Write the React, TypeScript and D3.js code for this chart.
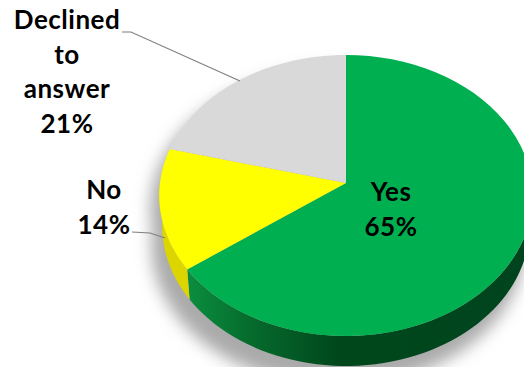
import React from "react";
import * as d3 from "d3";

// Survey answers, in clockwise order from twelve o'clock
const categories = ["Yes", "No", "Declined to answer"];
const shares = [65, 14, 21];
const topColors = ["#00B050", "#FFFF00", "#D9D9D9"];
const labelLines = [["Yes", "65%"], ["No", "14%"], ["Declined", "to", "answer", "21%"]];
const labelCenters = [[391, 201], [104, 199], [67, 29]];
const leaderLines = [
  [],
  [[132, 232], [150, 233], [165, 238]],
  [[122, 32], [131, 32], [240, 81]],
];
const shadowOffsets = [[-9, 14], [-8, 50]];

const W = 524;
const H = 367;
const pivot = { x: 346, y: 183 };
const radiusX = 186;
const radiusY = 139.4;
const tilt = 0.089;
const depth = 30;
const rimNarrowing = 0.985;
const lineHeight = 34.5;

// Perspective projection of a pie angle onto the tilted disc
const project = (a: number): [number, number] => {
  const w = 1 + tilt * Math.cos(a);
  return [pivot.x + (radiusX * Math.sin(a)) / w, pivot.y - (radiusY * Math.cos(a)) / w];
};

const samples = (a0: number, a1: number) =>
  d3.range(0, 61).map((i) => a0 + ((a1 - a0) * i) / 60);

const line = d3.line<[number, number]>().x((d) => d[0]).y((d) => d[1]);

const slices = d3.pie<number>().sort(null)(shares);

// The lower edge of the rim sits further from the eye, so it is slightly narrower
const wall = (a0: number, a1: number) => {
  const top = samples(a0, a1).map(project);
  const bottom = top
    .slice()
    .reverse()
    .map(([x, y]): [number, number] => [pivot.x + (x - pivot.x) * rimNarrowing, y + depth]);
  return line([...top, ...bottom]) + "Z";
};

const wedge = (a0: number, a1: number) =>
  line([[pivot.x, pivot.y], ...samples(a0, a1).map(project)]) + "Z";

const fullDisc = line(samples(0, Math.PI * 2).map(project)) + "Z";
const yesEnd = slices[0].endAngle;

export default function App() {
  return (
    <svg
      width={W}
      height={H}
      viewBox={`0 0 ${W} ${H}`}
      style={{ position: "fixed", left: 0, top: 0, background: "#fff" }}
    >
      <defs>
        <filter id="soft" filterUnits="userSpaceOnUse" x="0" y="0" width={W + 100} height={H + 100}>
          <feGaussianBlur stdDeviation="8" />
        </filter>
        <linearGradient id="greenWall" gradientUnits="userSpaceOnUse" x1="185" x2="524" y1="0" y2="0">
          <stop offset="0" stopColor="#0B8F40" />
          <stop offset="0.2" stopColor="#066A2C" />
          <stop offset="0.45" stopColor="#00481C" />
          <stop offset="1" stopColor="#00441E" />
        </linearGradient>
      </defs>

      {/* soft drop shadow under the disc */}
      <g filter="url(#soft)">
        {shadowOffsets.map(([dx, dy]) => (
          <path key={dy} d={fullDisc} transform={`translate(${dx},${dy})`} fill="#aaa" />
        ))}
      </g>

      {/* rim of the disc, visible only on the near side */}
      <path d={wall(Math.PI / 2, yesEnd)} fill="url(#greenWall)" />
      <path d={wall(yesEnd, Math.PI * 1.5)} fill="#DDD500" />

      {slices.map((s, i) => (
        <path key={categories[i]} d={wedge(s.startAngle, s.endAngle)} fill={topColors[i]} />
      ))}

      {leaderLines.map((pts, i) =>
        pts.length ? (
          <path
            key={i}
            d={line(pts as [number, number][]) as string}
            fill="none"
            stroke="#7f7f7f"
            strokeWidth={1.2}
          />
        ) : null
      )}

      {labelLines.map((lines, i) => (
        <text
          key={categories[i]}
          textAnchor="middle"
          fontFamily="Lato, sans-serif"
          fontWeight={700}
          fontSize={26}
          letterSpacing={0.5}
          fill="#000"
        >
          {lines.map((t, j) => (
            <tspan key={t} x={labelCenters[i][0]} y={labelCenters[i][1] + j * lineHeight}>
              {t}
            </tspan>
          ))}
        </text>
      ))}
    </svg>
  );
}
